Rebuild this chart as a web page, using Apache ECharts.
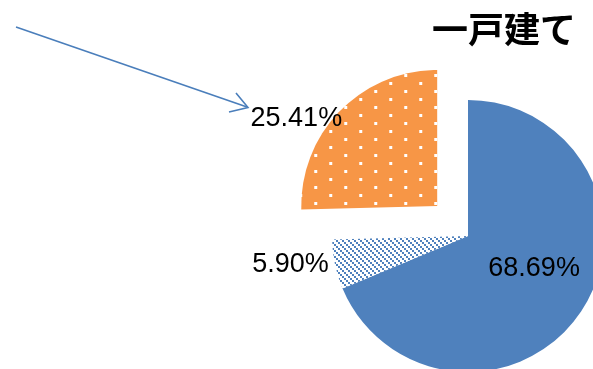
<!DOCTYPE html>
<html>
<head>
<meta charset="utf-8">
<style>html,body{margin:0;padding:0;background:#fff;}#c{width:593px;height:369px;}</style>
<script src="https://cdn.jsdelivr.net/npm/echarts@6/dist/echarts.min.js"></script>
</head>
<body>
<div id="c"></div>
<script>
var categories = ['A', 'B', 'C'];
var values = [68.69, 5.90, 25.41];
var titleText = '一戸建て';

function makeDots() {
  var c = document.createElement('canvas');
  c.width = 30; c.height = 16;
  var g = c.getContext('2d');
  g.fillStyle = '#F79646'; g.fillRect(0, 0, 30, 16);
  g.fillStyle = '#ffffff';
  g.fillRect(0, 0, 3, 3);
  g.fillRect(15, 8, 3, 3);
  return c;
}
function makeHatch() {
  var c = document.createElement('canvas');
  c.width = 6; c.height = 6;
  var g = c.getContext('2d');
  g.fillStyle = '#ffffff'; g.fillRect(0, 0, 6, 6);
  g.fillStyle = '#4F81BD';
  g.fillRect(0, 0, 2, 2);
  g.fillRect(2, 2, 2, 2);
  g.fillRect(4, 4, 2, 2);
  return c;
}
var fills = [
  '#4F81BD',
  {image: makeHatch(), repeat: 'repeat'},
  {image: makeDots(), repeat: 'repeat'}
];
var labelShift = [[7, -7], [-108, 14], [-90, -38]];

var chart = echarts.init(document.getElementById('c'), null, {renderer: 'canvas'});
chart.setOption({
  animation: false,
  title: {
    text: titleText, left: 499, top: 6, textAlign: 'center',
    textStyle: {fontFamily: 'Noto Sans CJK JP', fontSize: 36, fontWeight: 'bold', color: '#000'}
  },
  graphic: [
    {type: 'polyline', shape: {points: [[16, 27], [247, 107]]}, style: {stroke: '#4A7EBB', lineWidth: 1.6, fill: null}},
    {type: 'polyline', shape: {points: [[236, 93], [248, 107.5], [229, 112]]}, style: {stroke: '#4A7EBB', lineWidth: 1.6, fill: null}}
  ],
  series: [{
    type: 'pie',
    center: [468, 236],
    radius: 136,
    startAngle: 90,
    clockwise: true,
    selectedMode: 'single',
    selectedOffset: 43,
    silent: true,
    emphasis: {disabled: true, scale: false},
    label: {
      show: true,
      position: 'inside',
      formatter: function (p) { return p.value.toFixed(2) + '%'; },
      fontFamily: 'Liberation Sans',
      fontSize: 27,
      color: '#000'
    },
    labelLine: {show: false},
    labelLayout: function (p) {
      var s = labelShift[p.dataIndex];
      return {dx: s[0], dy: s[1]};
    },
    data: categories.map(function (n, i) {
      return {name: n, value: values[i], selected: i === 2, itemStyle: {color: fills[i], borderWidth: 0}};
    })
  }]
});
</script>
</body>
</html>
